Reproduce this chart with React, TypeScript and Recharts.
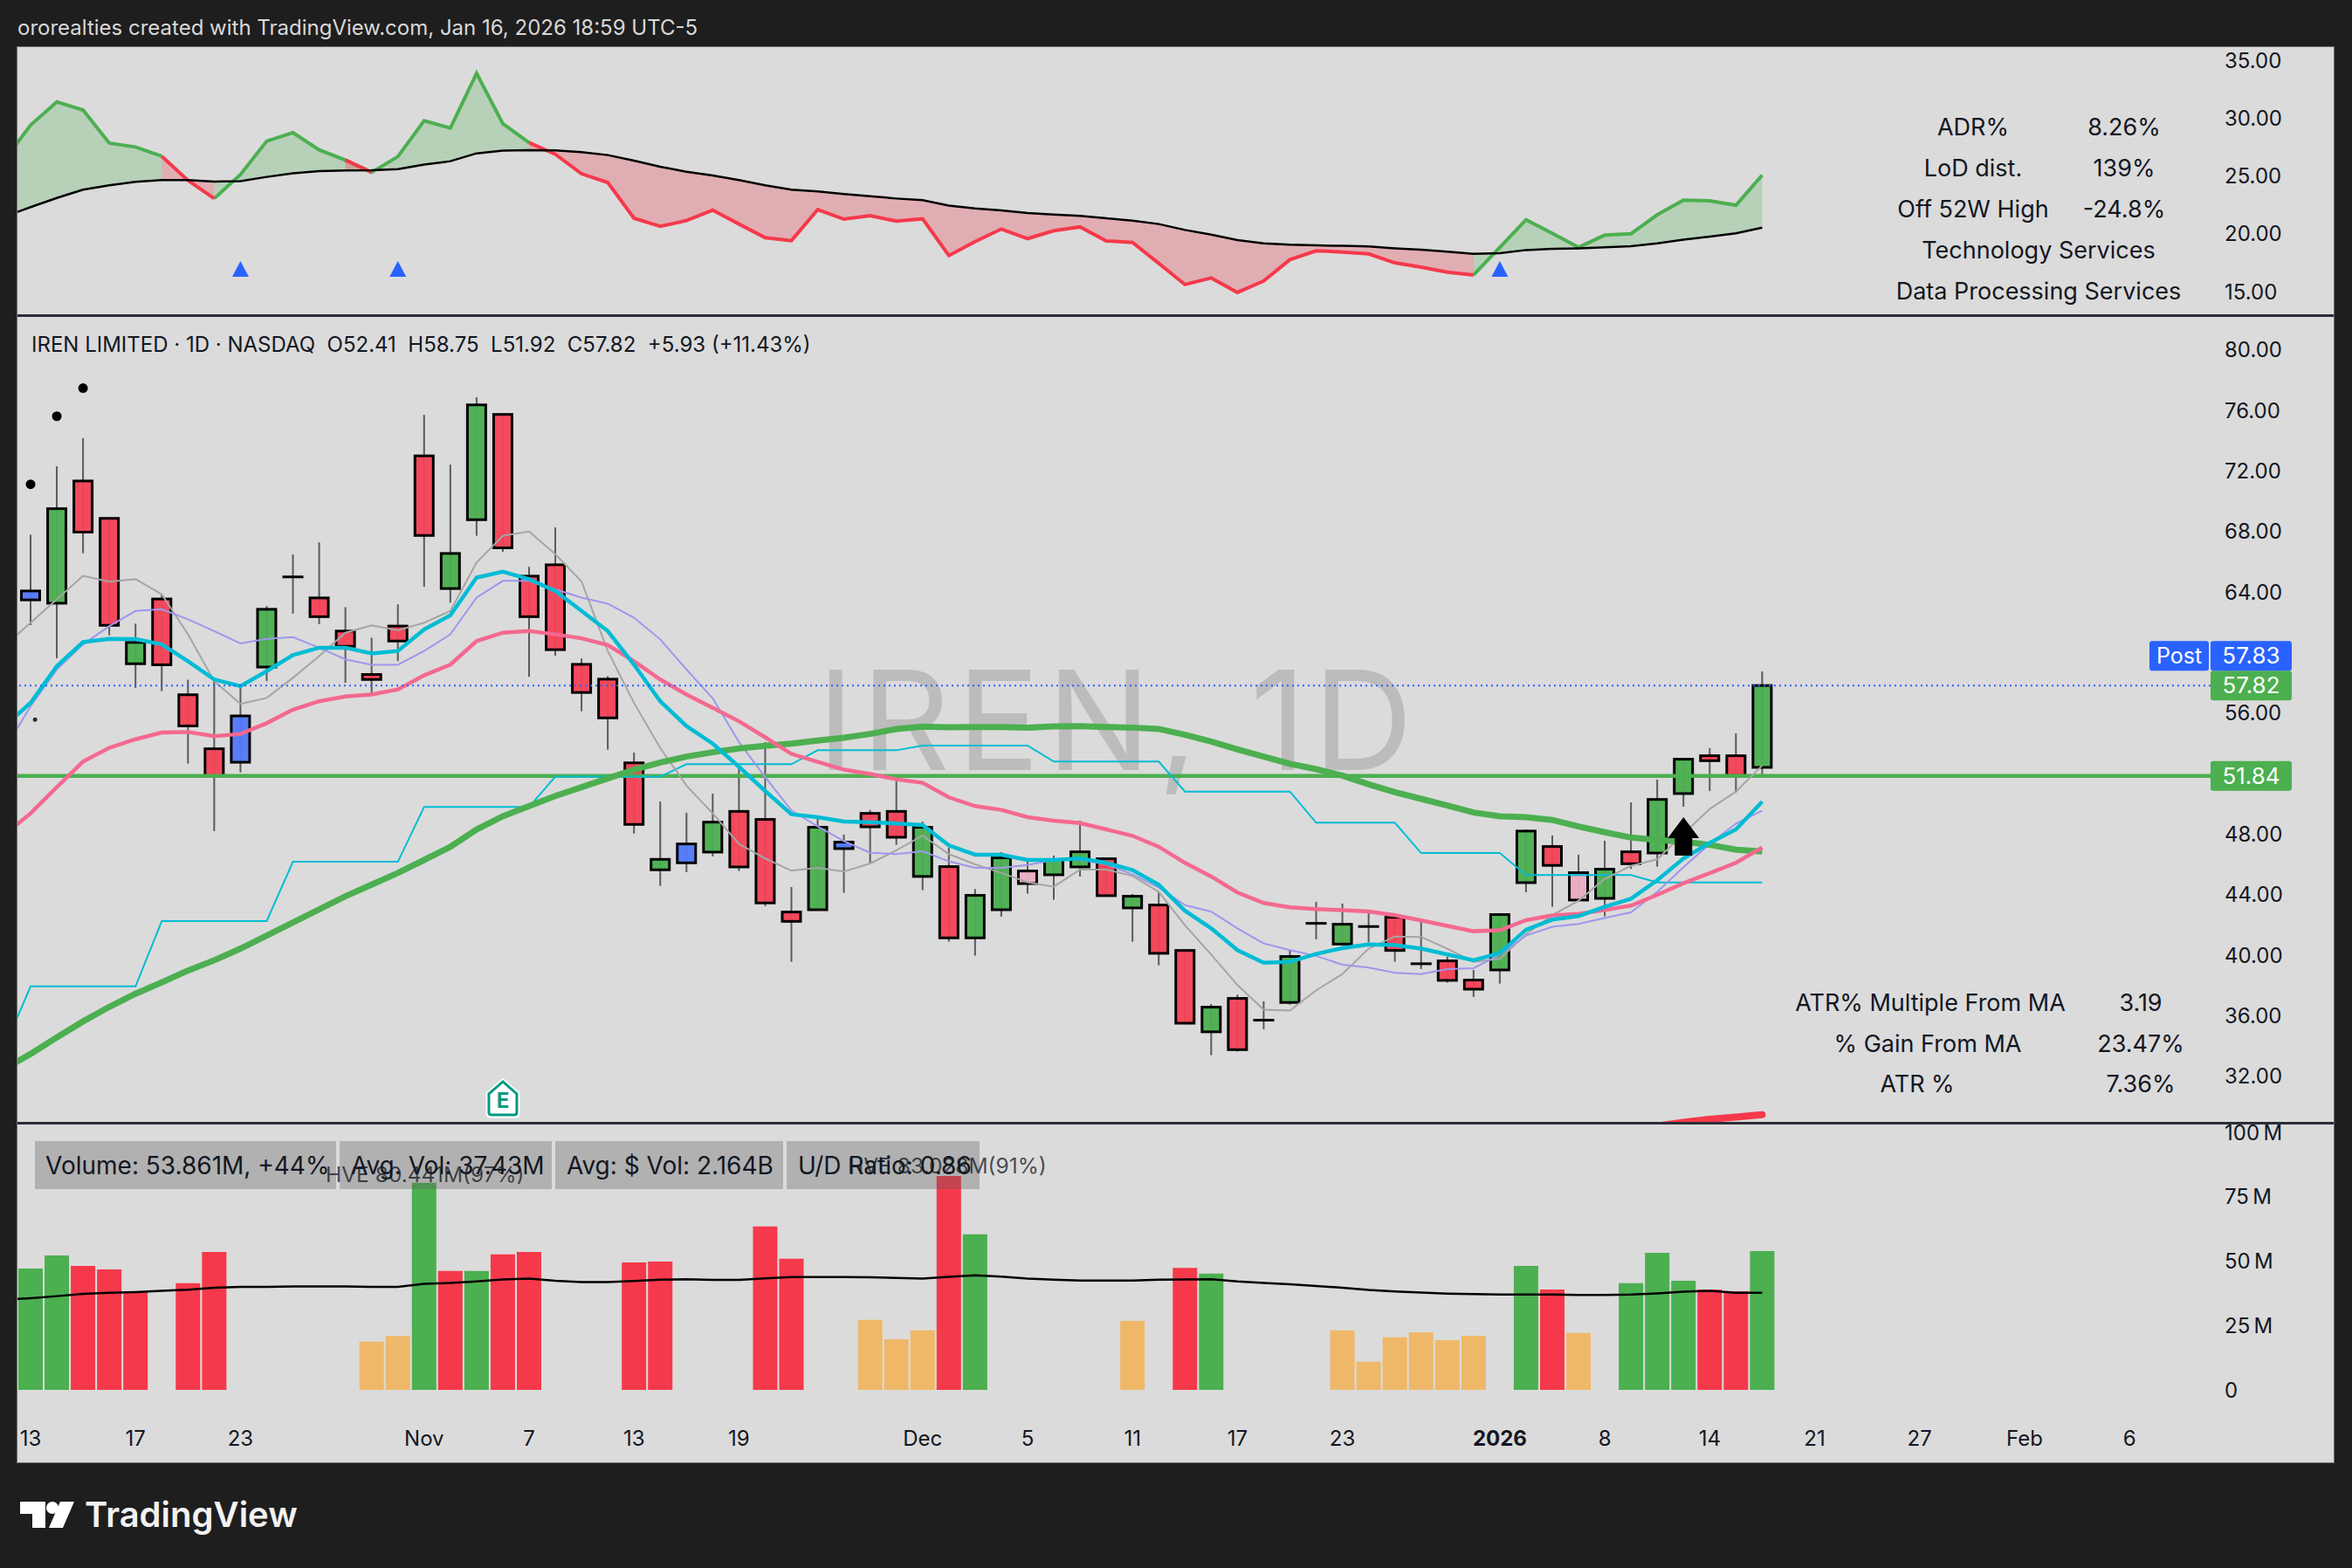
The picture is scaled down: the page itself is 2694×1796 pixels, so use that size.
import React from 'react';
import { ComposedChart, Bar, Line, Area, XAxis, YAxis, ReferenceLine, ReferenceDot, Cell } from 'recharts';

const FONT = 'Inter, "Noto Sans", sans-serif';
const INK = '#131722';
const GREEN = '#4caf50';
const RED = '#f44356';

// x positions on the time axis, -1 is the bar just left of the visible range
const lastCandle = 66;
const rowIndex = Array.from({ length: lastCandle + 2 }, (_, n) => n - 1);

const tickIndex = [0, 4, 8, 15, 19, 23, 27, 34, 38, 42, 46, 50, 56, 60, 64, 68, 72, 76, 80];
const tickLabels = ['13', '17', '23', 'Nov', '7', '13', '19', 'Dec', '5', '11', '17', '23', '2026', '8', '14', '21', '27', 'Feb', '6'];

const priceTicks = [80, 76, 72, 68, 64, 56, 48, 44, 40, 36, 32];
const rsTicks = [35, 30, 25, 20, 15];
const volTicks = [100, 75, 50, 25, 0];

// candles
const bodyTop = [64.07, 69.51, 71.34, 68.87, 60.67, 63.54, 57.21, 53.64, 55.81, 62.86, 65.0, 63.61, 61.42, 58.55, 61.75, 73.0, 66.55, 76.37, 75.74, 65.05, 65.8, 59.22, 58.24, 52.71, 46.33, 47.35, 48.79, 49.5, 48.97, 42.85, 48.45, 47.47, 49.37, 49.5, 48.45, 45.85, 43.95, 46.43, 45.56, 46.31, 46.83, 46.37, 43.89, 43.31, 40.31, 36.56, 37.14, 35.7, 39.91, 42.1, 42.04, 41.89, 42.5, 39.43, 39.62, 38.35, 42.68, 48.2, 47.18, 45.45, 45.68, 46.83, 50.29, 52.95, 53.18, 53.18, 57.82];
const bodyBottom = [63.48, 63.26, 67.96, 61.8, 59.26, 59.19, 55.15, 51.81, 52.75, 59.04, 65.0, 62.37, 60.41, 58.22, 60.76, 67.74, 64.23, 68.78, 66.92, 62.37, 60.19, 57.36, 55.68, 48.64, 45.64, 46.1, 46.81, 45.83, 43.45, 42.23, 43.0, 47.04, 48.48, 47.79, 45.2, 41.14, 41.14, 43.0, 44.73, 45.31, 45.83, 43.93, 43.12, 40.12, 35.5, 34.93, 33.75, 35.7, 36.87, 42.1, 40.73, 41.89, 40.31, 39.43, 38.33, 37.75, 39.02, 44.79, 45.93, 43.64, 43.75, 46.04, 46.75, 50.68, 52.85, 51.87, 52.41];
const wickHigh = [67.78, 72.31, 74.17, 68.87, 61.91, 63.85, 58.2, 58.1, 57.78, 63.08, 66.48, 67.28, 63.0, 60.98, 63.19, 75.71, 72.42, 76.88, 75.74, 65.66, 68.27, 59.61, 58.44, 53.39, 50.16, 49.41, 50.68, 52.35, 54.08, 44.5, 49.02, 47.97, 49.6, 51.5, 48.83, 47.1, 44.37, 46.81, 46.23, 46.58, 48.89, 46.37, 44.04, 44.18, 40.39, 36.77, 37.39, 36.95, 40.33, 43.52, 43.41, 42.91, 42.64, 42.35, 39.89, 39.02, 42.77, 48.31, 47.91, 46.64, 47.56, 50.1, 51.6, 52.95, 53.68, 54.66, 58.75];
const wickLow = [61.82, 59.63, 66.57, 61.14, 57.67, 57.45, 52.66, 48.2, 52.08, 58.11, 62.57, 61.87, 58.0, 57.27, 59.44, 64.34, 63.3, 67.72, 66.66, 58.4, 59.79, 56.12, 53.58, 48.04, 44.58, 45.48, 46.52, 45.56, 43.23, 39.56, 43.0, 44.12, 46.06, 47.29, 44.29, 40.89, 39.97, 42.54, 44.06, 43.66, 45.2, 43.93, 40.89, 39.33, 35.43, 33.39, 33.62, 35.1, 36.73, 41.04, 40.62, 40.85, 39.56, 39.08, 38.18, 37.23, 38.12, 44.16, 43.2, 43.64, 42.56, 45.7, 45.85, 49.81, 50.85, 50.75, 51.92];
const bodyKind = 'b g r r g r r r b g k r r r r r g g r r r r r r g b g r r r g b r r g r g g p g g r g r r g r k g k g k r k r r g g r p g r g g r r g'.split(' ');

// moving averages, first value is the off-screen bar at -1
const maThick = [32.47, 33.47, 34.56, 35.62, 36.58, 37.45, 38.2, 38.98, 39.66, 40.43, 41.29, 42.16, 43.02, 43.89, 44.66, 45.43, 46.29, 47.16, 48.31, 49.18, 49.85, 50.52, 51.1, 51.68, 52.25, 52.73, 53.12, 53.41, 53.66, 53.83, 53.98, 54.18, 54.37, 54.62, 54.95, 55.1, 55.06, 55.08, 55.08, 55.04, 55.12, 55.14, 55.08, 55.04, 54.95, 54.56, 54.12, 53.6, 53.12, 52.64, 52.29, 51.87, 51.29, 50.77, 50.33, 49.89, 49.43, 49.18, 49.12, 48.93, 48.5, 48.12, 47.77, 47.6, 47.5, 47.29, 46.97, 46.85];
const maPink = [47.95, 49.37, 51.1, 52.79, 53.7, 54.27, 54.71, 54.75, 54.47, 54.62, 55.33, 56.23, 56.78, 57.1, 57.23, 57.56, 58.49, 59.2, 60.76, 61.31, 61.42, 61.2, 60.94, 60.5, 59.43, 58.22, 57.23, 56.34, 55.46, 54.4, 53.3, 52.77, 52.26, 51.97, 51.62, 51.39, 50.43, 49.85, 49.6, 49.12, 48.89, 48.73, 48.31, 47.89, 47.16, 46.1, 45.2, 44.14, 43.45, 43.16, 43.04, 42.97, 42.89, 42.64, 42.29, 41.93, 41.58, 41.64, 42.31, 42.62, 42.73, 42.98, 43.27, 43.98, 44.75, 45.42, 46.1, 47.11];
const maCyan = [55.12, 56.68, 59.1, 60.69, 60.9, 60.89, 60.54, 59.43, 58.22, 57.78, 58.77, 59.83, 60.32, 60.32, 59.94, 60.1, 61.53, 62.46, 64.96, 65.35, 64.85, 64.07, 62.75, 61.42, 59.2, 56.78, 55.14, 53.98, 52.45, 50.85, 49.31, 49.12, 48.83, 48.79, 48.7, 48.6, 47.25, 46.64, 46.64, 46.29, 46.29, 46.39, 46.1, 45.62, 44.65, 42.93, 41.77, 40.33, 39.5, 39.56, 40.08, 40.46, 40.71, 40.66, 40.43, 40.04, 39.66, 40.14, 41.68, 42.35, 42.58, 43.2, 43.73, 44.95, 46.39, 47.41, 48.31, 50.14];
const maPurple = [53.59, 56.45, 58.88, 60.54, 61.75, 62.75, 62.86, 62.2, 61.42, 60.6, 60.9, 61.02, 60.32, 59.55, 59.19, 59.19, 60.1, 61.2, 63.63, 64.74, 64.74, 64.18, 63.63, 63.23, 62.3, 60.87, 58.88, 56.97, 54.08, 51.77, 49.56, 48.5, 47.54, 46.77, 46.68, 46.87, 46.2, 45.77, 45.77, 45.96, 46.29, 46.29, 46.0, 45.33, 44.46, 43.31, 42.87, 41.77, 40.77, 40.33, 39.95, 39.37, 39.18, 38.83, 38.75, 39.08, 39.14, 40.04, 41.29, 41.87, 42.06, 42.45, 42.83, 44.18, 45.81, 47.35, 48.7, 49.54];
const maGray = [60.43, 61.97, 63.52, 65.07, 64.69, 64.85, 63.85, 61.2, 58.11, 56.61, 57.0, 58.33, 59.77, 61.31, 61.8, 61.47, 61.97, 62.75, 65.95, 67.72, 68.0, 66.5, 64.69, 60.1, 56.67, 53.69, 51.2, 49.37, 47.35, 46.39, 45.58, 45.77, 45.52, 46.06, 46.93, 47.9, 46.68, 46.0, 45.43, 44.81, 44.52, 45.66, 45.66, 45.23, 44.18, 41.97, 40.04, 38.02, 36.39, 36.33, 37.68, 38.75, 40.43, 41.23, 41.2, 40.43, 39.56, 39.75, 41.39, 42.64, 43.6, 45.04, 45.9, 46.33, 48.02, 49.66, 50.81, 52.53];
const stepLine = [33.87, 37.93, 37.93, 37.93, 37.93, 37.93, 42.25, 42.25, 42.25, 42.25, 42.25, 46.17, 46.17, 46.17, 46.17, 46.17, 49.79, 49.79, 49.79, 49.79, 49.79, 51.8, 51.8, 51.8, 51.8, 51.8, 52.62, 52.62, 52.62, 52.62, 52.62, 53.54, 53.54, 53.54, 53.54, 53.85, 53.85, 53.85, 53.85, 53.85, 52.79, 52.79, 52.79, 52.79, 52.79, 50.81, 50.81, 50.81, 50.81, 50.81, 48.75, 48.75, 48.75, 48.75, 46.75, 46.75, 46.75, 46.75, 45.29, 45.29, 45.29, 45.29, 45.29, 44.81, 44.81, 44.81, 44.81, 44.81];

const signalDots: Record<number, number> = { 0: 71.12, 1: 75.62, 2: 77.48 };
const breakoutArrows: Record<number, number> = { 63: 47.85 };
const earnings: Record<number, number> = { 18: 30.54 };
const redTrend: Record<number, number> = { 62: 28.7, 63: 28.95, 64: 29.15, 65: 29.3, 66: 29.45 };

// relative strength pane, first value is the off-screen bar at -1
const rsFast = [26.39, 29.41, 31.43, 30.72, 27.85, 27.52, 26.72, 24.62, 23.06, 25.13, 28.03, 28.76, 27.27, 26.39, 25.33, 26.69, 29.79, 29.16, 33.9, 29.54, 27.9, 26.89, 25.2, 24.45, 21.35, 20.65, 21.15, 22.05, 20.85, 19.66, 19.41, 22.1, 21.27, 21.57, 21.1, 21.3, 18.12, 19.33, 20.42, 19.59, 20.27, 20.6, 19.39, 19.26, 17.45, 15.61, 16.18, 14.93, 15.93, 17.77, 18.53, 18.43, 18.27, 17.49, 17.12, 16.69, 16.44, 18.83, 21.22, 20.04, 18.83, 19.89, 20.01, 21.65, 22.91, 22.86, 22.48, 25.08];
const rsSlow = [21.49, 22.31, 23.11, 23.82, 24.2, 24.5, 24.65, 24.65, 24.52, 24.57, 24.93, 25.25, 25.43, 25.48, 25.5, 25.61, 25.99, 26.29, 26.97, 27.2, 27.25, 27.22, 27.07, 26.82, 26.34, 25.81, 25.38, 25.05, 24.65, 24.2, 23.82, 23.67, 23.44, 23.26, 23.06, 22.91, 22.45, 22.2, 22.03, 21.8, 21.68, 21.55, 21.35, 21.15, 20.85, 20.34, 19.94, 19.46, 19.18, 19.06, 19.0, 18.96, 18.91, 18.75, 18.63, 18.45, 18.27, 18.33, 18.6, 18.7, 18.75, 18.83, 18.93, 19.18, 19.49, 19.76, 20.04, 20.54];
const rsGreenSpans = [[-1, 5], [7, 12], [13, 19], [55, 66]];
const rsRedSpans = [[5, 7], [12, 13], [19, 55]];
const rsMarkers: Record<number, number> = { 8: 16.97, 14: 16.97, 56: 16.97 };

// volume in millions, null means the bar is filtered out
const volumes = [47.1, 52.2, 48.1, 46.8, 38.2, null, 41.4, 53.6, null, null, null, null, null, 18.7, 20.9, 80.44, 46.2, 46.2, 52.6, 53.6, null, null, null, 49.5, 49.8, null, null, null, 63.5, 50.9, null, null, 27.2, 19.7, 23.1, 83.03, 60.4, null, null, null, null, null, 26.8, null, 47.4, 45.2, null, null, null, null, 23.1, 10.9, 20.4, 22.4, 19.3, 21.0, null, 48.1, 39.0, 22.1, null, 41.4, 53.2, 42.4, 39.0, 38.3, 53.86];
const volumeKind = 'g g r r r - r r - - - - - o o g r g r r - - - r r - - - r r - - o o o r g - - - - - o - r g - - - - o o o o o o - g r o - g g g r r g'.split(' ');
const volumeMa = [35.0, 35.6, 36.4, 37.3, 37.7, 38.0, 38.5, 38.9, 39.7, 40.0, 40.0, 40.2, 40.2, 40.2, 40.0, 40.0, 41.2, 41.5, 42.1, 42.9, 43.2, 42.4, 41.9, 41.9, 42.3, 42.8, 43.0, 42.7, 42.7, 43.3, 43.8, 43.8, 43.8, 43.7, 43.5, 43.2, 43.9, 44.5, 44.0, 43.2, 42.8, 42.5, 42.5, 42.5, 42.8, 42.9, 43.0, 42.1, 41.5, 41.0, 40.3, 39.7, 38.8, 38.2, 37.8, 37.4, 37.2, 37.0, 37.0, 37.0, 36.9, 36.9, 37.0, 37.5, 38.1, 38.5, 37.7, 37.7];

const volColors: Record<string, string> = { g: GREEN, r: '#f5394b', o: '#efb868' };
const bodyColors: Record<string, string> = { g: GREEN, r: RED, b: '#5279f7', p: '#e9adc3', k: '#000' };

const inSpans = (i: number, spans: number[][]) => spans.some(([a, b]) => i >= a && i <= b);

const rows = rowIndex.map((i, n) => {
  const c = i >= 0 ? i : -1;
  return {
    i,
    range: c >= 0 ? [wickLow[c], wickHigh[c]] : null,
    bodyTop: bodyTop[c],
    bodyBottom: bodyBottom[c],
    kind: bodyKind[c],
    maThick: maThick[n],
    maPink: maPink[n],
    maCyan: maCyan[n],
    maPurple: maPurple[n],
    maGray: maGray[n],
    stepLine: stepLine[n],
    signal: signalDots[i] ?? null,
    arrow: breakoutArrows[i] ?? null,
    earn: earnings[i] ?? null,
    trend: redTrend[i] ?? null,
    rsMark: rsMarkers[i] ?? null,
    rsSlow: rsSlow[n],
    fastGreen: inSpans(i, rsGreenSpans) ? rsFast[n] : null,
    fastRed: inSpans(i, rsRedSpans) ? rsFast[n] : null,
    cloudGreen: inSpans(i, rsGreenSpans) ? [rsSlow[n], rsFast[n]] : null,
    cloudRed: inSpans(i, rsRedSpans) ? [rsSlow[n], rsFast[n]] : null,
    vol: c >= 0 ? volumes[c] : null,
    volKind: c >= 0 ? volumeKind[c] : '-',
    volMa: volumeMa[n],
  };
});

const Candle = (props: any) => {
  const { x, y, width, height, payload } = props;
  if (!payload || !payload.range) return <g />;
  const [low, high] = payload.range;
  const perUnit = height / (high - low);
  const top = y + (high - payload.bodyTop) * perUnit;
  const bottom = y + (high - payload.bodyBottom) * perUnit;
  const mid = x + width / 2;
  return (
    <g>
      <line x1={mid} x2={mid} y1={y} y2={y + height} stroke="#5a5a5a" strokeWidth={2} />
      {payload.kind === 'k' ? (
        <rect x={x} y={top - 1.5} width={width} height={3} fill="#000" />
      ) : (
        <rect x={x + 1.5} y={top} width={width - 3} height={Math.max(bottom - top, 1)} fill={bodyColors[payload.kind]} fillOpacity={0.96} stroke="#000" strokeWidth={3} />
      )}
    </g>
  );
};

const ArrowDot = ({ cx, cy }: any) => {
  if (cy == null) return <g />;
  return <path d={`M${cx} ${cy - 22} L${cx + 18} ${cy + 2} L${cx + 10} ${cy + 2} L${cx + 10} ${cy + 22} L${cx - 10} ${cy + 22} L${cx - 10} ${cy + 2} L${cx - 18} ${cy + 2} Z`} fill="#000" />;
};

const SignalDot = ({ cx, cy }: any) => (cy == null ? <g /> : <ellipse cx={cx} cy={cy} rx={5.5} ry={5.5} fill="#000" />);

const EarningsDot = ({ cx, cy }: any) => {
  if (cy == null) return <g />;
  return (
    <g>
      <path d={`M${cx} ${cy - 20} L${cx + 17} ${cy - 5} L${cx + 17} ${cy + 17} Q${cx + 17} ${cy + 20} ${cx + 14} ${cy + 20} L${cx - 14} ${cy + 20} Q${cx - 17} ${cy + 20} ${cx - 17} ${cy + 17} L${cx - 17} ${cy - 5} Z`} fill="#fff" stroke="#fff" strokeWidth={5} strokeLinejoin="round" />
      <path d={`M${cx} ${cy - 19} L${cx + 16} ${cy - 5} L${cx + 16} ${cy + 16} Q${cx + 16} ${cy + 19} ${cx + 13} ${cy + 19} L${cx - 13} ${cy + 19} Q${cx - 16} ${cy + 19} ${cx - 16} ${cy + 16} L${cx - 16} ${cy - 5} Z`} fill="#fff" stroke="#089981" strokeWidth={3} />
      <text x={cx} y={cy + 11} textAnchor="middle" fontFamily={FONT} fontSize={24} fontWeight={700} fill="#089981">E</text>
    </g>
  );
};

const TriangleDot = ({ cx, cy }: any) => {
  if (cy == null) return <g />;
  return <path d={`M${cx} ${cy - 9} L${cx + 9.5} ${cy + 9} L${cx - 9.5} ${cy + 9} Z`} fill="#2962ff" />;
};

const PriceTag = ({ viewBox, text, fill, dy = 0, prefix }: any) => {
  const x = viewBox.x + viewBox.width;
  const y = viewBox.y + dy;
  return (
    <g>
      {prefix && <rect x={x - 70} y={y - 17} width={68} height={34} rx={3} fill={fill} />}
      {prefix && <text x={x - 36} y={y + 9} textAnchor="middle" fontFamily={FONT} fontSize={25} fill="#fff">{prefix}</text>}
      <rect x={x} y={y - 17} width={93} height={34} rx={3} fill={fill} />
      <text x={x + 46.5} y={y + 9} textAnchor="middle" fontFamily={FONT} fontSize={26} fill="#fff">{text}</text>
    </g>
  );
};

const DateTick = ({ x, y, payload }: any) => {
  const label = tickLabels[tickIndex.indexOf(payload.value)];
  return (
    <text x={x} y={y + 18} textAnchor="middle" fontFamily={FONT} fontSize={24} fontWeight={label === '2026' ? 700 : 400} fill={INK}>{label}</text>
  );
};

const axisTick = { fill: INK, fontSize: 24, fontFamily: FONT };
const X_DOMAIN = [-0.5, 83.09];
const CHART_W = 2653;
const Y_W = 141;

const Txt = ({ x, y, anchor = 'center', size = 24, color = INK, children, style }: any) => (
  <div style={{
    position: 'absolute', left: x, top: y, whiteSpace: 'pre', fontFamily: FONT, fontSize: size, color, lineHeight: 1,
    transform: `translate(${anchor === 'center' ? '-50%' : '0'}, -50%)`, ...style,
  }}>{children}</div>
);

const volBoxes = [
  { x: 40, w: 345, text: 'Volume: 53.861M, +44%', tx: 52 },
  { x: 389, w: 243, text: 'Avg. Vol: 37.43M', tx: 402 },
  { x: 636, w: 261, text: 'Avg: $ Vol: 2.164B', tx: 649 },
  { x: 901, w: 221, text: 'U/D Ratio: 0.86', tx: 914 },
];

const statRows = [
  ['ADR%', '8.26%'],
  ['LoD dist.', '139%'],
  ['Off 52W High', '-24.8%'],
];
const maStats = [
  ['ATR% Multiple From MA', '3.19', 2211, 1148],
  ['% Gain From MA', '23.47%', 2208, 1195],
  ['ATR %', '7.36%', 2196, 1241],
];

export default function App() {
  return (
    <div style={{ position: 'absolute', left: 0, top: 0, width: 2694, height: 1796, background: '#1e1e1e', overflow: 'hidden' }}>
      <Txt x={20} y={32} anchor="left" size={24} color="#d8d8d8">ororealties created with TradingView.com, Jan 16, 2026 18:59 UTC-5</Txt>

      <div style={{ position: 'absolute', left: 20, top: 54, width: 2653, height: 1621, background: '#dbdbdb', boxShadow: '0 0 0 1px #6f6f6f' }} />

      <div style={{ position: 'absolute', left: 936, top: 825, transform: 'translateY(-50%)', fontFamily: FONT, fontSize: 158, lineHeight: 1, color: '#bcbcbc', whiteSpace: 'pre', fontWeight: 400, letterSpacing: 8 }}>IREN, 1D</div>

      <div style={{ position: 'absolute', left: 20, top: 53 }}>
        <ComposedChart width={CHART_W} height={308} data={rows} margin={{ top: 0, right: 0, bottom: 0, left: 0 }}>
          <XAxis type="number" dataKey="i" domain={X_DOMAIN} hide allowDataOverflow />
          <YAxis orientation="right" width={Y_W} domain={[12.96, 36.24]} ticks={rsTicks} interval={0} allowDataOverflow axisLine={false} tickLine={false} tickSize={0} tickMargin={16} tick={axisTick} tickFormatter={(v: number) => v.toFixed(2)} />
          <Area dataKey="cloudGreen" stroke="none" fill={GREEN} fillOpacity={0.25} isAnimationActive={false} dot={false} activeDot={false} />
          <Area dataKey="cloudRed" stroke="none" fill="#f23645" fillOpacity={0.27} isAnimationActive={false} dot={false} activeDot={false} />
          <Line dataKey="fastGreen" stroke={GREEN} strokeWidth={4} dot={false} activeDot={false} isAnimationActive={false} />
          <Line dataKey="fastRed" stroke="#f5394b" strokeWidth={4} dot={false} activeDot={false} isAnimationActive={false} />
          <Line dataKey="rsSlow" stroke="#000" strokeWidth={2.5} dot={false} activeDot={false} isAnimationActive={false} />
          <Line dataKey="rsMark" stroke="none" dot={<TriangleDot />} activeDot={false} isAnimationActive={false} />
        </ComposedChart>
      </div>

      <div style={{ position: 'absolute', left: 20, top: 361 }}>
        <ComposedChart width={CHART_W} height={925} data={rows} margin={{ top: 0, right: 0, bottom: 0, left: 0 }}>
          <XAxis type="number" dataKey="i" domain={X_DOMAIN} hide allowDataOverflow />
          <YAxis orientation="right" width={Y_W} domain={[28.92, 82.3]} ticks={priceTicks} interval={0} allowDataOverflow axisLine={false} tickLine={false} tickSize={0} tickMargin={16} tick={axisTick} tickFormatter={(v: number) => v.toFixed(2)} />
          <ReferenceLine y={51.84} stroke={GREEN} strokeWidth={4.5} label={<PriceTag text="51.84" fill={GREEN} />} />
          <Line dataKey="arrow" stroke="none" dot={<ArrowDot />} activeDot={false} isAnimationActive={false} />
          <Line dataKey="stepLine" stroke="#00bcd4" strokeWidth={2} dot={false} activeDot={false} isAnimationActive={false} />
          <Line dataKey="maGray" stroke="#a5a5a5" strokeWidth={2} dot={false} activeDot={false} isAnimationActive={false} />
          <Line dataKey="maPurple" stroke="#9d97ec" strokeWidth={2} dot={false} activeDot={false} isAnimationActive={false} />
          <Line dataKey="maThick" stroke={GREEN} strokeWidth={7} dot={false} activeDot={false} isAnimationActive={false} />
          <Line dataKey="maPink" stroke="#f4698f" strokeWidth={4.5} dot={false} activeDot={false} isAnimationActive={false} />
          <Line dataKey="maCyan" stroke="#00bcd4" strokeWidth={4.5} dot={false} activeDot={false} isAnimationActive={false} />
          <Line dataKey="trend" stroke="#f5394b" strokeWidth={8} strokeLinecap="round" dot={false} activeDot={false} isAnimationActive={false} />
          <Line dataKey="signal" stroke="none" dot={<SignalDot />} activeDot={false} isAnimationActive={false} />
          <Line dataKey="earn" stroke="none" dot={<EarningsDot />} activeDot={false} isAnimationActive={false} />
          <ReferenceDot x={0.17} y={55.57} r={2.5} fill="#2a2e39" stroke="none" />
          <ReferenceLine y={57.82} stroke="#2962ff" strokeWidth={2} strokeDasharray="2 4" label={<PriceTag text="57.82" fill={GREEN} />} />
          <ReferenceLine y={57.82} stroke="none" label={<PriceTag text="57.83" prefix="Post" fill="#2962ff" dy={-34} />} />
          <Bar dataKey="range" barSize={24} shape={<Candle />} isAnimationActive={false} />
        </ComposedChart>
      </div>

      <div style={{ position: 'absolute', left: 20, top: 1286 }}>
        <ComposedChart width={CHART_W} height={389} data={rows} margin={{ top: 0, right: 0, bottom: 0, left: 0 }}>
          <XAxis type="number" dataKey="i" domain={X_DOMAIN} ticks={tickIndex} interval={0} height={45} allowDataOverflow axisLine={false} tickLine={false} tick={<DateTick />} />
          <YAxis orientation="right" width={Y_W} domain={[-12.88, 103.73]} ticks={volTicks} interval={0} allowDataOverflow axisLine={false} tickLine={false} tickSize={0} tickMargin={16} tick={axisTick} tickFormatter={(v: number) => (v === 0 ? '0' : `${v}\u2009M`)} />
          <Bar dataKey="vol" barSize={28} isAnimationActive={false}>
            {rows.map((r) => (
              <Cell key={r.i} fill={volColors[r.volKind] ?? 'none'} />
            ))}
          </Bar>
          <Line dataKey="volMa" stroke="#000" strokeWidth={2.5} dot={false} activeDot={false} isAnimationActive={false} />
        </ComposedChart>
      </div>

      <div style={{ position: 'absolute', left: 20, top: 360, width: 2653, height: 3, background: '#2a2e39' }} />
      <div style={{ position: 'absolute', left: 20, top: 1284.5, width: 2653, height: 3, background: '#2a2e39' }} />

      <Txt x={36} y={395} anchor="left" size={24}>{'IREN LIMITED · 1D · NASDAQ  O52.41  H58.75  L51.92  C57.82  +5.93 (+11.43%)'}</Txt>

      {statRows.map((r, n) => (
        <React.Fragment key={r[0]}>
          <Txt x={2260} y={145 + n * 47} size={27}>{r[0]}</Txt>
          <Txt x={2433} y={145 + n * 47} size={27}>{r[1]}</Txt>
        </React.Fragment>
      ))}
      <Txt x={2335} y={286} size={27}>Technology Services</Txt>
      <Txt x={2335} y={333} size={27}>Data Processing Services</Txt>

      {maStats.map((r) => (
        <React.Fragment key={r[0]}>
          <Txt x={r[2]} y={r[3]} size={27}>{r[0]}</Txt>
          <Txt x={2452} y={r[3]} size={27}>{r[1]}</Txt>
        </React.Fragment>
      ))}

      {volBoxes.map((b) => (
        <React.Fragment key={b.text}>
          <div style={{ position: 'absolute', left: b.x, top: 1307, width: b.w, height: 55, background: 'rgba(90,90,90,0.33)' }} />
          <Txt x={b.tx} y={1335} anchor="left" size={28}>{b.text}</Txt>
        </React.Fragment>
      ))}
      <Txt x={373} y={1345} anchor="left" size={24.5} color="rgba(19,23,34,0.75)">HVE 80.441M(97%)</Txt>
      <Txt x={971} y={1335} anchor="left" size={24.5} color="rgba(19,23,34,0.75)">HVE 83.028M(91%)</Txt>

      <svg style={{ position: 'absolute', left: 23, top: 1720 }} width={64} height={32}>
        <path d="M0 0H29V30H14V14H0Z" fill="#fff" />
        <circle cx={37} cy={7} r={7} fill="#fff" />
        <path d="M46 0H62L49 30H33Z" fill="#fff" />
      </svg>
      <Txt x={97} y={1735} anchor="left" size={40} color="#f2f2f2" style={{ fontWeight: 600 }}>TradingView</Txt>
    </div>
  );
}
